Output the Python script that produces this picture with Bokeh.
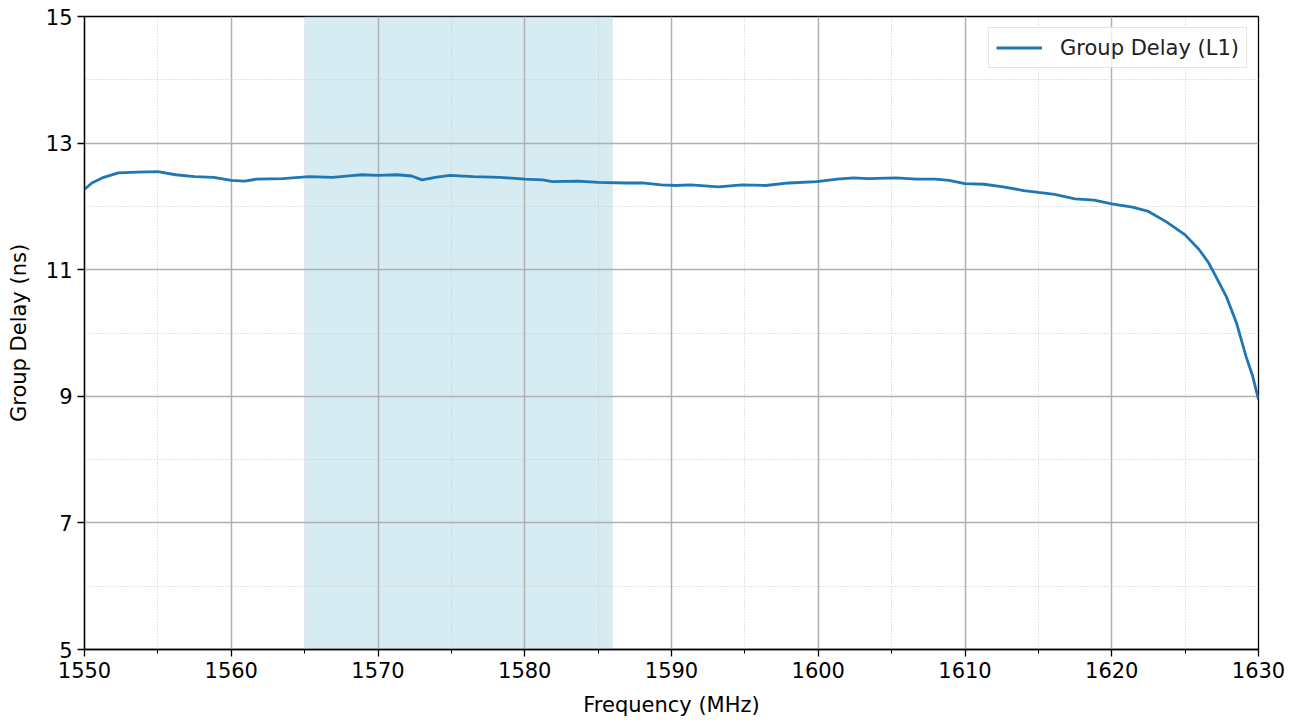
from bokeh.plotting import figure
from bokeh.models import FixedTicker, BoxAnnotation, Legend, LegendItem, Range1d
from bokeh.embed import file_html
from bokeh.resources import INLINE

# ---- data ----
freq_mhz = [1550.0, 1550.5, 1551.2, 1552.3, 1553.6, 1555.0, 1556.2, 1557.5, 1558.8,
            1560.0, 1560.9, 1561.7, 1563.5, 1565.3, 1566.9, 1568.4, 1568.9, 1570.0,
            1571.3, 1572.3, 1573.0, 1573.9, 1574.9, 1576.5, 1578.3, 1580.0, 1581.2,
            1581.9, 1583.6, 1585.0, 1586.9, 1588.0, 1589.3, 1590.3, 1591.3, 1593.2,
            1594.8, 1596.4, 1598.0, 1599.9, 1601.3, 1602.4, 1603.4, 1605.3, 1606.7,
            1608.0, 1608.9, 1610.0, 1611.3, 1612.6, 1614.0, 1615.0, 1616.1, 1617.5,
            1618.8, 1620.0, 1621.4, 1622.5, 1623.7, 1625.0, 1625.95, 1626.6, 1627.1,
            1627.8, 1628.5, 1629.15, 1629.6, 1630.0]
group_delay_ns = [12.27, 12.37, 12.45, 12.53, 12.54, 12.55, 12.50, 12.47, 12.46,
                  12.41, 12.40, 12.43, 12.44, 12.47, 12.46, 12.49, 12.50, 12.49,
                  12.50, 12.48, 12.42, 12.46, 12.49, 12.47, 12.46, 12.43, 12.42,
                  12.39, 12.40, 12.38, 12.37, 12.37, 12.34, 12.33, 12.34, 12.31,
                  12.34, 12.33, 12.37, 12.39, 12.43, 12.45, 12.44, 12.45, 12.43,
                  12.43, 12.41, 12.36, 12.35, 12.31, 12.25, 12.22, 12.19, 12.12,
                  12.10, 12.04, 11.99, 11.92, 11.76, 11.55, 11.32, 11.11, 10.89,
                  10.58, 10.16, 9.63, 9.32, 8.95]
band_start_mhz = 1565
band_end_mhz = 1586
x_major_ticks = [1550, 1560, 1570, 1580, 1590, 1600, 1610, 1620, 1630]
x_minor_ticks = [1555, 1565, 1575, 1585, 1595, 1605, 1615, 1625]
y_major_ticks = [5, 7, 9, 11, 13, 15]
y_minor_ticks = [6, 8, 10, 12, 14]
series_label = "Group Delay (L1)"

FONT = "DejaVu Sans"
FS = "21px"

p = figure(frame_width=1174, frame_height=633, output_backend="svg", toolbar_location=None,
           x_range=Range1d(1550, 1630), y_range=Range1d(5, 15),
           min_border_left=84, min_border_right=28, min_border_top=16, min_border_bottom=66)

p.background_fill_color = "white"
p.outline_line_color = "black"
p.outline_line_width = 1.3
p.outline_line_alpha = 1.0

# shaded band
band = BoxAnnotation(left=band_start_mhz, right=band_end_mhz, fill_color="#add8e6",
                     fill_alpha=0.5, line_color=None, level="image")
p.add_layout(band)

# axes
p.xaxis.ticker = FixedTicker(ticks=x_major_ticks, minor_ticks=x_minor_ticks)
p.yaxis.ticker = FixedTicker(ticks=y_major_ticks, minor_ticks=y_minor_ticks)
for ax in (p.xaxis[0], p.yaxis[0]):
    ax.axis_line_color = "black"
    ax.axis_line_width = 1.3
    ax.major_tick_line_color = "black"
    ax.major_tick_line_width = 1.3
    ax.minor_tick_line_color = "black"
    ax.major_tick_in = 0
    ax.major_tick_out = 7
    ax.minor_tick_in = 0
    ax.major_label_text_font = FONT
    ax.major_label_text_font_size = FS
    ax.major_label_text_color = "black"
    ax.axis_label_text_font = FONT
    ax.axis_label_text_font_size = FS
    ax.axis_label_text_font_style = "normal"
    ax.axis_label_text_color = "black"
p.xaxis.minor_tick_out = 4
p.yaxis.minor_tick_out = 0
p.xaxis.major_label_standoff = 5
p.yaxis.major_label_standoff = 5
p.xaxis.axis_label = "Frequency (MHz)"
p.yaxis.axis_label = "Group Delay (ns)"
p.xaxis.axis_label_standoff = 12
p.yaxis.axis_label_standoff = 12

# grids
for g in (p.xgrid[0], p.ygrid[0]):
    g.grid_line_color = "#b0b0b0"
    g.grid_line_width = 1.5
    g.minor_grid_line_color = "#c8c8c8"
    g.minor_grid_line_width = 1
    g.minor_grid_line_dash = "1 2"

line = p.line(freq_mhz, group_delay_ns, line_color="#1f77b4", line_width=2.8)

legend = Legend(items=[LegendItem(label=series_label, renderers=[line])],
                location="top_right")
legend.label_text_font = FONT
legend.label_text_font_size = FS
legend.label_text_color = "#222222"
legend.border_line_color = "#cccccc"
legend.border_line_width = 1.3
legend.background_fill_alpha = 0.8
legend.margin = 11
legend.padding = 7
legend.glyph_width = 46
legend.label_standoff = 18
legend.label_height = 25
legend.glyph_height = 25
p.add_layout(legend)

open("out.html", "w").write(file_html(p, INLINE))
